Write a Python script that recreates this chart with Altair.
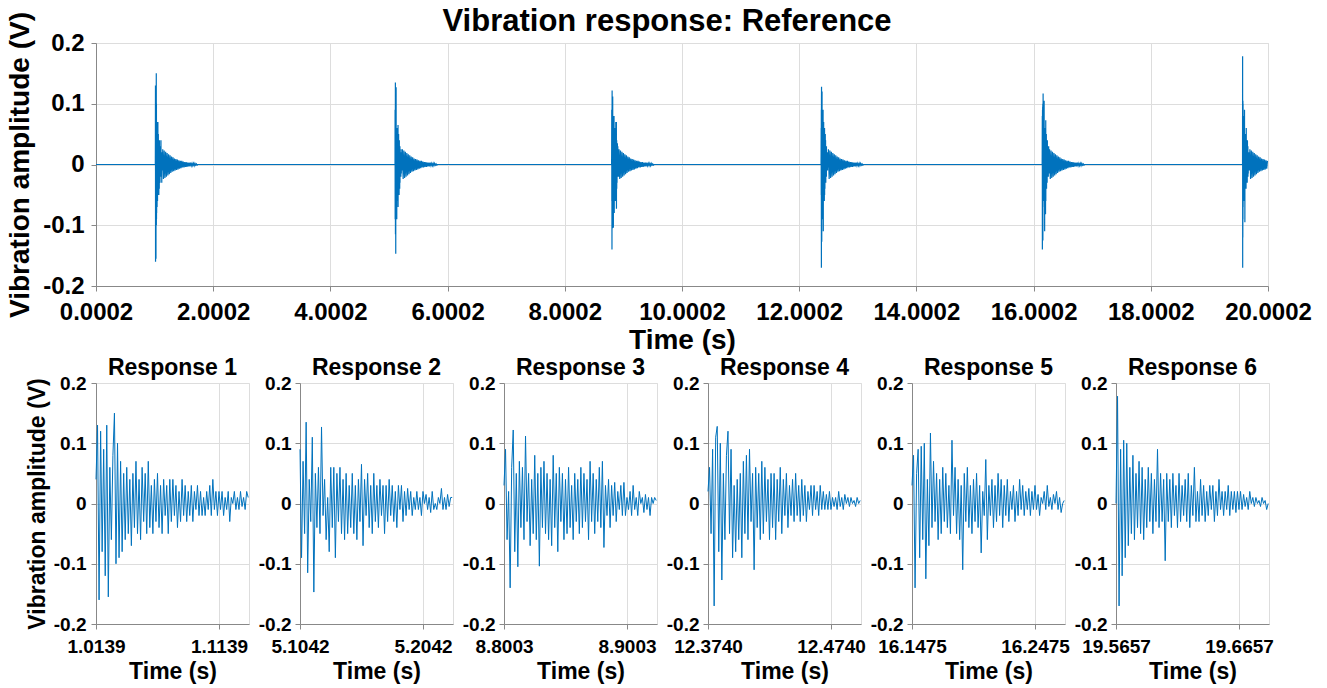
import altair as alt
import pandas as pd

TITLE = "Vibration response: Reference"
Y_TITLE = "Vibration amplitude (V)"
X_TITLE = "Time (s)"

RESPONSE_NAMES = ["Response 1", "Response 2", "Response 3", "Response 4", "Response 5", "Response 6"]
RESPONSE_STARTS = [1.0139, 5.1042, 8.8003, 12.3740, 16.1475, 19.5657]
SAMPLE_STEP = 0.00125
PANEL_SPAN = 0.1244
TAIL_STEP = 0.0125
BASELINE = 0.0

TOP_X_RANGE = [0.0002, 20.0002]
TOP_X_TICKS = [0.0002, 2.0002, 4.0002, 6.0002, 8.0002, 10.0002, 12.0002, 14.0002, 16.0002, 18.0002, 20.0002]
Y_RANGE = [-0.2, 0.2]
Y_TICKS = [-0.2, -0.1, 0.0, 0.1, 0.2]
PANEL_TICK_STEP = 0.1

RESP_1 = [0.04, 0.13, -0.16, 0.12, -0.08, 0.09, -0.12, 0.13, -0.155, 0.06, -0.06, 0.08, 0.15, -0.10, 0.10, -0.09, 0.07, -0.08, 0.05, -0.06,
          0.06, -0.05, 0.04, -0.07, 0.05, -0.04, 0.07, -0.05, 0.04, -0.06, 0.06, -0.03, 0.05, -0.05, 0.07, -0.04, 0.03, -0.05, 0.04, -0.03,
          0.05, -0.04, 0.03, -0.05, 0.04, -0.02, 0.03, -0.05, 0.04, -0.03, 0.04, -0.02, 0.03, -0.04, 0.02, -0.03, 0.04, -0.02, 0.03, -0.03,
          0.02, -0.02, 0.03, -0.03, 0.02, -0.01, 0.03, -0.02, 0.02, -0.02, 0.01, -0.02, 0.02, -0.01, 0.03, -0.02, 0.04, -0.01, 0.02, -0.02,
          0.02, -0.01, 0.02, -0.02, 0.01, -0.01, 0.02, -0.03, 0.01, 0.0, 0.02, -0.01, 0.01, -0.01, 0.02, -0.005, 0.01, -0.01, 0.02, 0.01]
RESP_2 = [0.09, -0.09, 0.07, -0.05, 0.135, -0.115, 0.04, -0.03, 0.11, -0.147, 0.05, -0.04, 0.06, -0.05, 0.127, -0.02, 0.04, -0.06, 0.01, -0.08,
          0.06, -0.04, 0.06, -0.09, 0.05, -0.03, 0.06, -0.05, 0.04, -0.06, 0.05, -0.05, 0.03, -0.04, 0.05, -0.05, 0.03, -0.06, 0.04, -0.03,
          0.065, -0.07, 0.04, -0.02, 0.05, -0.04, 0.03, -0.05, 0.05, -0.03, 0.03, -0.04, 0.04, -0.02, 0.03, -0.05, 0.03, -0.03, 0.04, -0.02,
          0.03, -0.03, 0.02, -0.04, 0.03, -0.01, 0.03, -0.03, 0.02, -0.02, 0.025, -0.01, 0.02, -0.02, 0.01, -0.01, 0.02, -0.01, 0.01, -0.02,
          0.02, 0.0, 0.015, -0.01, 0.01, -0.015, 0.02, -0.01, 0.0, -0.01, 0.01, 0.0, 0.025, -0.01, 0.01, -0.01, 0.015, -0.005, 0.01, 0.01]
RESP_3 = [0.03, 0.09, -0.06, 0.02, -0.14, 0.06, 0.122, -0.08, 0.05, -0.105, 0.07, -0.04, 0.06, -0.06, 0.112, -0.03, 0.05, -0.07, 0.04, -0.05,
          0.08, -0.06, 0.05, -0.104, 0.06, -0.04, 0.07, -0.05, 0.05, -0.06, 0.04, -0.07, 0.08, -0.04, 0.05, -0.08, 0.06, -0.03, 0.05, -0.06,
          0.04, -0.05, 0.06, -0.04, 0.03, -0.06, 0.05, -0.03, 0.04, -0.05, 0.06, -0.04, 0.05, -0.03, 0.04, -0.06, 0.07, -0.03, 0.05, -0.05,
          0.04, -0.03, 0.06, -0.04, 0.07, -0.073, 0.03, -0.02, 0.04, -0.04, 0.03, -0.02, 0.035, -0.03, 0.02, -0.01, 0.03, -0.02, 0.035, -0.02,
          0.01, -0.01, 0.02, -0.02, 0.03, -0.01, 0.01, -0.02, 0.02, 0.0, 0.01, -0.015, 0.015, -0.01, 0.01, -0.02, 0.01, 0.0, 0.01, 0.005]
RESP_4 = [0.02, 0.06, -0.05, 0.09, -0.17, 0.11, 0.128, -0.08, 0.10, -0.127, 0.05, -0.06, 0.08, 0.12, -0.05, 0.09, -0.09, 0.03, -0.08, 0.04,
          -0.06, 0.05, -0.09, 0.07, -0.05, 0.08, -0.06, 0.09, -0.03, 0.05, -0.11, 0.06, -0.04, 0.05, -0.06, 0.07, -0.05, 0.06, -0.03, 0.04,
          -0.06, 0.05, -0.04, 0.05, -0.06, 0.04, -0.03, 0.06, -0.05, 0.04, -0.02, 0.05, -0.04, 0.03, -0.02, 0.04, -0.03, 0.05, -0.02, 0.03,
          -0.03, 0.04, -0.02, 0.03, -0.03, 0.02, -0.01, 0.03, -0.02, 0.03, -0.01, 0.02, -0.02, 0.03, -0.01, 0.02, -0.01, 0.015, -0.01, 0.02,
          -0.01, 0.01, -0.005, 0.01, -0.01, 0.02, -0.005, 0.01, -0.01, 0.015, 0.0, 0.01, -0.005, 0.01, 0.0, 0.005, -0.005, 0.01, 0.0, 0.005]
RESP_5 = [0.03, 0.08, -0.14, 0.05, 0.09, -0.09, 0.095, -0.06, 0.10, -0.125, 0.04, -0.07, 0.117, -0.04, 0.07, -0.03, 0.05, -0.06, 0.04, -0.05,
          0.06, -0.03, 0.05, -0.04, 0.03, -0.05, 0.105, -0.02, 0.06, -0.05, 0.04, -0.06, 0.03, -0.11, 0.05, -0.03, 0.06, -0.04, 0.03, -0.05,
          0.04, -0.03, 0.05, -0.04, 0.03, -0.082, 0.02, -0.02, 0.073, -0.06, 0.03, -0.02, 0.04, -0.04, 0.03, -0.03, 0.05, -0.02, 0.04, -0.04,
          0.03, -0.02, 0.04, -0.03, 0.02, -0.01, 0.03, -0.03, 0.02, -0.02, 0.04, -0.01, 0.03, -0.02, 0.02, -0.01, 0.025, -0.02, 0.02, -0.01,
          0.03, -0.01, 0.015, -0.02, 0.01, 0.0, 0.02, -0.01, 0.03, -0.005, 0.01, -0.01, 0.015, 0.0, 0.02, -0.01, 0.01, -0.015, 0.0, 0.005]
RESP_6 = [0.0, 0.178, -0.17, 0.09, -0.12, 0.105, -0.09, 0.10, -0.07, 0.06, -0.05, 0.08, -0.06, 0.05, -0.04, 0.07, -0.05, 0.06, -0.06, 0.04,
          -0.04, 0.06, -0.03, 0.05, -0.05, 0.04, -0.03, 0.09, -0.04, 0.05, -0.03, 0.04, -0.095, 0.05, -0.03, 0.04, -0.04, 0.05, -0.02, 0.03,
          -0.04, 0.05, -0.03, 0.03, -0.02, 0.04, -0.03, 0.05, -0.04, 0.03, -0.02, 0.06, -0.03, 0.02, -0.03, 0.04, -0.02, 0.03, -0.03, 0.02,
          -0.02, 0.03, -0.01, 0.03, -0.03, 0.02, -0.02, 0.04, -0.01, 0.02, -0.02, 0.02, -0.01, 0.03, -0.02, 0.02, -0.01, 0.02, -0.015, 0.02,
          -0.01, 0.02, -0.01, 0.015, -0.005, 0.01, -0.01, 0.02, 0.0, 0.01, -0.005, 0.01, 0.0, 0.005, -0.005, 0.01, 0.0, 0.005, -0.01, 0.0]
RESPONSES = [RESP_1, RESP_2, RESP_3, RESP_4, RESP_5, RESP_6]

# slow decay after each window, as seen in the full-length record
TAIL = [0.025, -0.024, 0.023, -0.022, 0.021, -0.02, 0.019, -0.018, 0.017, -0.016,
        0.015, -0.014, 0.013, -0.012, 0.012, -0.011, 0.01, -0.01, 0.009, -0.009,
        0.008, -0.008, 0.007, -0.007, 0.006, -0.006, 0.006, -0.005, 0.005, -0.005,
        0.004, -0.004, 0.004, -0.004, 0.003, -0.003, 0.003, -0.003, 0.003, -0.002,
        0.002, -0.002, 0.002, -0.002, 0.002, -0.001, 0.001, -0.001, 0.0]

LINE_COLOR = "#0072BD"
FONT = "Liberation Sans"
TEXT_COLOR = "#262626"
GRID_COLOR = "#e6e6e6"

TOP_W, TOP_H = 1172, 243
PANEL_W, PANEL_H = 153, 241

# ---------- top record ----------
rows = [{"t": TOP_X_RANGE[0], "v": BASELINE}]
for start, resp in zip(RESPONSE_STARTS, RESPONSES):
    rows.append({"t": start - SAMPLE_STEP, "v": BASELINE})
    for i, v in enumerate(resp):
        rows.append({"t": start + i * SAMPLE_STEP, "v": v})
    tail_start = start + len(resp) * SAMPLE_STEP
    for j, v in enumerate(TAIL):
        rows.append({"t": tail_start + j * TAIL_STEP, "v": v})
top_df = pd.DataFrame(rows)
top_df = top_df[top_df["t"] <= TOP_X_RANGE[1]]

y_label_expr = "datum.value == 0 ? '0' : (datum.value < 0 ? '-' : '') + format(abs(datum.value), '.1f')"

top_line = alt.Chart(top_df).mark_line(color=LINE_COLOR, strokeWidth=1.2).encode(
    x=alt.X("t:Q", scale=alt.Scale(domain=TOP_X_RANGE, nice=False, zero=False),
            axis=alt.Axis(values=TOP_X_TICKS, format=".4f", title=X_TITLE, labelFontSize=24,
                          labelFontWeight="bold", titleFontSize=28, labelPadding=9, titlePadding=2,
                          labelFlush=False, labelOverlap=False)),
    y=alt.Y("v:Q", scale=alt.Scale(domain=Y_RANGE, nice=False),
            axis=alt.Axis(values=Y_TICKS, labelExpr=y_label_expr, title=Y_TITLE, labelFontSize=24,
                          labelFontWeight="bold", titleFontSize=28, labelPadding=7, titlePadding=8)),
)
top_title = alt.Chart(pd.DataFrame({"label": [TITLE]})).mark_text(
    font=FONT, fontSize=31, fontWeight="bold", color="black", baseline="alphabetic", align="center",
).encode(text="label:N", x=alt.value(TOP_W / 2 - 15), y=alt.value(-12))

top = alt.layer(top_line, top_title).properties(width=TOP_W, height=TOP_H)

# ---------- individual responses ----------
panels = []
for k, (name, start, resp) in enumerate(zip(RESPONSE_NAMES, RESPONSE_STARTS, RESPONSES)):
    df = pd.DataFrame({"t": [start + i * SAMPLE_STEP for i in range(len(resp))], "v": resp})
    if k == 0:
        y_axis = alt.Axis(values=Y_TICKS, labelExpr=y_label_expr, labelFontSize=19, labelFontWeight="bold",
                          labelPadding=5, title=Y_TITLE, titleFontSize=23, titlePadding=4)
    else:
        y_axis = alt.Axis(values=Y_TICKS, labelExpr=y_label_expr, labelFontSize=19, labelFontWeight="bold",
                          labelPadding=4, title=None)
    line = alt.Chart(df).mark_line(color=LINE_COLOR, strokeWidth=1).encode(
        x=alt.X("t:Q", scale=alt.Scale(domain=[start, start + PANEL_SPAN], nice=False, zero=False),
                axis=alt.Axis(values=[start, start + PANEL_TICK_STEP], format=".4f", title=X_TITLE,
                              labelFontSize=19, labelFontWeight="bold", titleFontSize=23,
                              labelPadding=8, titlePadding=4, labelFlush=False, labelOverlap=False)),
        y=alt.Y("v:Q", scale=alt.Scale(domain=Y_RANGE, nice=False), axis=y_axis),
    )
    label = alt.Chart(pd.DataFrame({"label": [name]})).mark_text(
        font=FONT, fontSize=23, fontWeight="bold", color="black", baseline="alphabetic", align="center",
    ).encode(text="label:N", x=alt.value(PANEL_W / 2), y=alt.value(-8))
    panels.append(alt.layer(line, label).properties(width=PANEL_W, height=PANEL_H))

row = alt.hconcat(*panels, spacing=51, bounds="flush")

chart = alt.vconcat(top, row, spacing=97, bounds="flush").properties(
    padding={"left": 6, "top": 5, "right": 5, "bottom": 3},
).configure_view(
    stroke="#555555", strokeWidth=1,
).configure_axis(
    grid=True, gridColor=GRID_COLOR, gridWidth=1, domain=False, ticks=False,
    labelFont=FONT, titleFont=FONT, labelFontWeight="bold", titleFontWeight="bold",
    labelColor=TEXT_COLOR, titleColor="black",
).configure(background="white")

chart.save("out.html", embed_options={"renderer": "svg", "actions": False})
